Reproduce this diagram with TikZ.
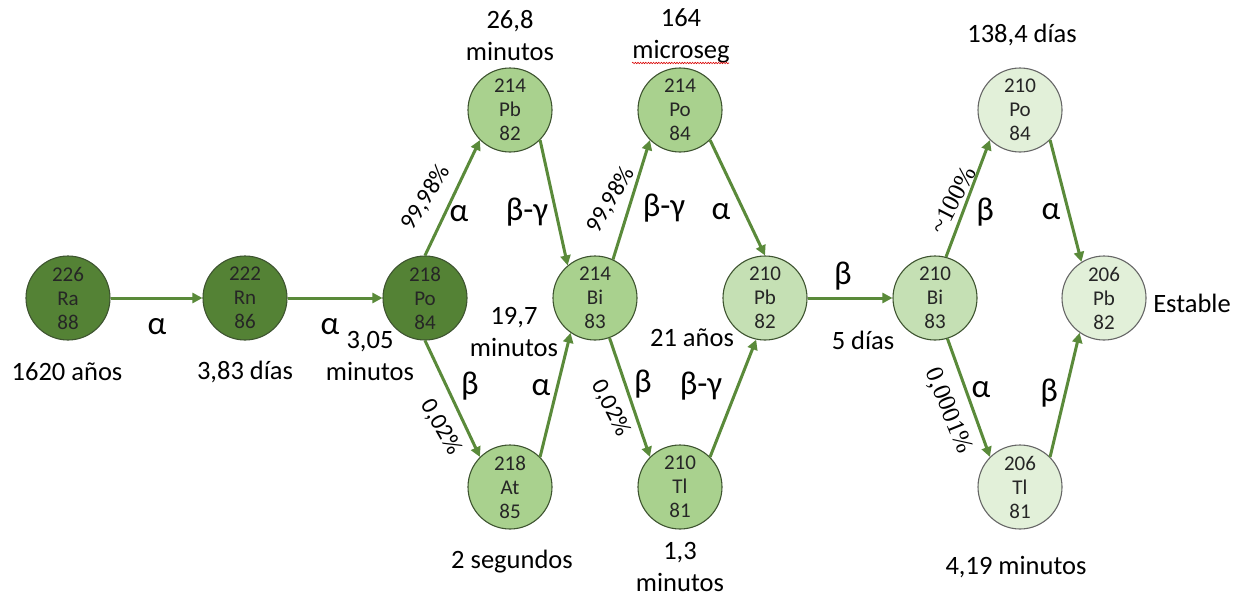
\documentclass[tikz,border=0pt]{standalone}
\usepackage{fontspec}
\setmainfont{Carlito}
\newfontfamily\serifpct{Liberation Serif}
\usetikzlibrary{arrows.meta,decorations.pathmorphing}
\definecolor{darkg}{HTML}{548235}
\definecolor{medg}{HTML}{A9D18E}
\definecolor{ltg}{HTML}{C5E0B4}
\definecolor{pale}{HTML}{E2F0D9}
\definecolor{outl}{HTML}{3E5430}
\definecolor{arrowc}{HTML}{5A8A3A}
\begin{document}
\begin{tikzpicture}[x=1pt,y=-1pt,
  nuc/.style={circle, minimum size=84pt, inner sep=0pt, draw=outl, line width=1.1pt,
    align=center, font=\fontsize{21}{24}\selectfont, text=black!85},
  dk/.style={nuc, fill=darkg},
  md/.style={nuc, fill=medg},
  lg/.style={nuc, fill=ltg},
  pl/.style={nuc, fill=pale, draw=black!60},
  arr/.style={draw=arrowc, line width=3pt, -{Triangle[length=10pt,width=10pt]}},
  lbl/.style={font=\fontsize{26.5}{32}\selectfont, align=center, inner sep=0pt},
  gk/.style={font=\fontsize{33}{34}\selectfont, inner sep=0pt},
  pct/.style={font=\fontsize{24}{26}\selectfont, inner sep=0pt},
  spct/.style={font=\serifpct\fontsize{25}{27}\selectfont, inner sep=0pt}]
\useasboundingbox (0,0) rectangle (1241,597);
\fill[white] (0,0) rectangle (1241,597);

% nuclei
\node[dk] (ra)    at (68,298)   {226\\Ra\\88};
\node[dk] (rn)    at (245,298)  {222\\Rn\\86};
\node[dk] (po218) at (425,298)  {218\\Po\\84};
\node[md] (pb214) at (510,110)  {214\\Pb\\82};
\node[md] (at218) at (510,487)  {218\\At\\85};
\node[md] (bi214) at (595,298)  {214\\Bi\\83};
\node[md] (po214) at (680,110)  {214\\Po\\84};
\node[md] (tl210) at (680,487)  {210\\Tl\\81};
\node[lg] (pb210) at (765,298)  {210\\Pb\\82};
\node[lg] (bi210) at (935,298)  {210\\Bi\\83};
\node[pl] (po210) at (1020,110) {210\\Po\\84};
\node[pl] (tl206) at (1020,487) {206\\Tl\\81};
\node[pl] (pb206) at (1104,298) {206\\Pb\\82};

% connectors
\draw[arr] (ra.east) -- (rn.west);
\draw[arr] (rn.east) -- (po218.west);
\draw[arr] (po218.north) -- (pb214.225);
\draw[arr] (pb214.-45) -- (bi214.130);
\draw[arr] (po218.south) -- (at218.135);
\draw[arr] (at218.45) -- (bi214.235);
\draw[arr] (bi214.65) -- (po214.225);
\draw[arr] (po214.-45) -- (pb210.90);
\draw[arr] (bi214.-70) -- (tl210.135);
\draw[arr] (tl210.45) -- (pb210.258);
\draw[arr] (pb210.east) -- (bi210.west);
\draw[arr] (bi210.75) -- (po210.225);
\draw[arr] (po210.-45) -- (pb206.122);
\draw[arr] (bi210.-73) -- (tl206.135);
\draw[arr] (tl206.45) -- (pb206.235);

% half-lives
\node[lbl] (h1) at (67,372)  {1620 años};
\node[lbl] (h2) at (245,372) {3,83 días};
\node[lbl] (h3) at (370,356) {3,05\\minutos};
\node[lbl] (h4) at (510,36)  {26,8\\minutos};
\node[lbl] (h5) at (681,36)  {164\\microseg};
\node[lbl] (h6) at (514,332) {19,7\\minutos};
\node[lbl] (h7) at (512,562) {2 segundos};
\node[lbl] (h8) at (692,338) {21 años};
\node[lbl] (h9) at (680,567) {1,3\\minutos};
\node[lbl] (h10) at (863,340) {5 días};
\node[lbl] (h11) at (1022,35) {138,4 días};
\node[lbl] (h12) at (1016,567) {4,19 minutos};
\node[lbl] (est) at (1192,303) {Estable};
\draw[red!85!black, line width=0.6pt, decorate,
  decoration={snake, amplitude=0.7pt, segment length=2.6pt}] (632,63) -- (729,63);

% decay modes
\node[gk] (g1) at (157,327) {α};
\node[gk] (g2) at (330,327) {α};
\node[gk] (g3) at (459,214) {α};
\node[gk] (g4) at (527,212) {β-γ};
\node[gk] (g5) at (470,386) {β};
\node[gk] (g6) at (541,388) {α};
\node[gk] (g7) at (664,208) {β-γ};
\node[gk] (g8) at (721,212) {α};
\node[gk] (g9) at (643,384) {β};
\node[gk] (g10) at (701,386) {β-γ};
\node[gk] (g11) at (843,276) {β};
\node[gk] (g12) at (985,212) {β};
\node[gk] (g13) at (1051,212) {α};
\node[gk] (g14) at (981,390) {α};
\node[gk] (g15) at (1049,393) {β};

% branching ratios
\node[pct, rotate=58]  (p1) at (426,198) {99,98\%};
\node[pct, rotate=-60] (p2) at (441,427) {0,02\%};
\node[pct, rotate=60]  (p3) at (611,200) {99,98\%};
\node[pct, rotate=-63] (p4) at (611,408) {0,02\%};
\node[spct, rotate=63] (p5) at (953,200) {\char"007E 100\%};
\node[spct, rotate=-68] (p6) at (948,411) {0,0001\%};
\end{tikzpicture}
\end{document}
